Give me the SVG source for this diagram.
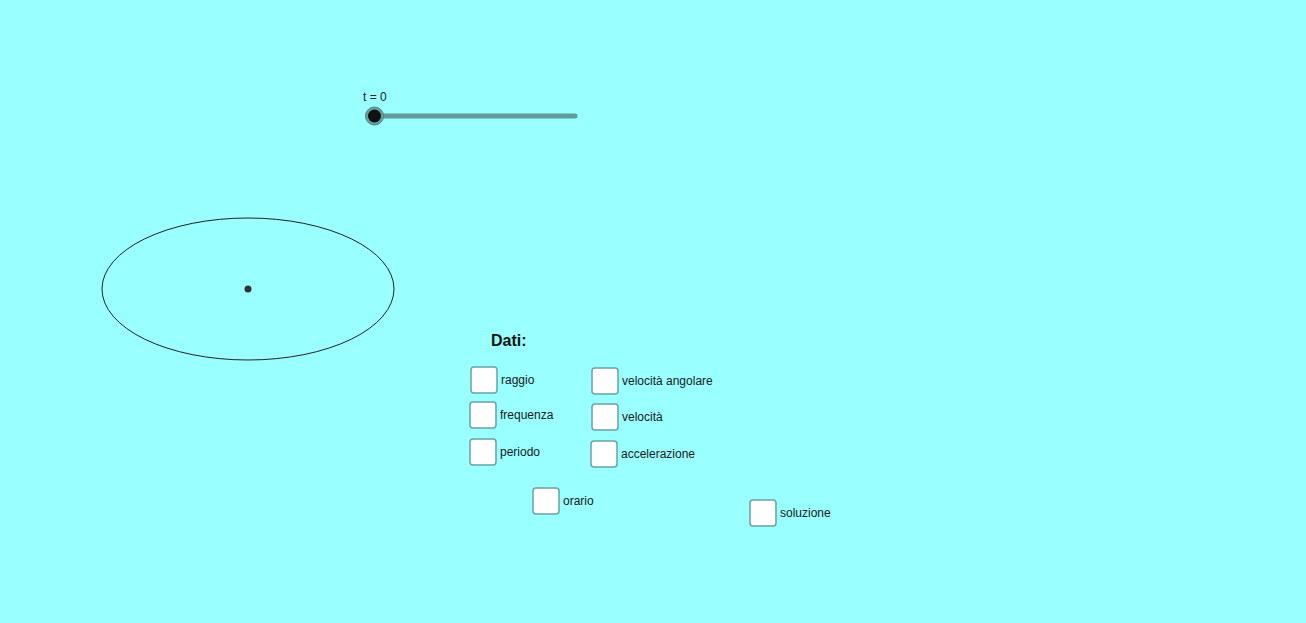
<svg xmlns="http://www.w3.org/2000/svg" width="1306" height="623" viewBox="0 0 1306 623">
<style>
.lbl{font-family:"Liberation Sans",Arial,sans-serif;font-size:12px;fill:#1a1a1a}
.cb{fill:#ffffff;stroke:#6aa3a3;stroke-width:1.5}
</style>
<rect x="0" y="0" width="1306" height="623" fill="#99ffff"/>
<g id="slider">
<text class="lbl" x="363" y="101">t = 0</text>
<line x1="374" y1="116" x2="575" y2="116" stroke="#5f9b9b" stroke-width="5" stroke-linecap="round"/>
<circle cx="374.5" cy="116" r="9" fill="#6a9e9e" stroke="#4f8585" stroke-width="1"/>
<circle cx="374.5" cy="116" r="6.5" fill="#111111"/>
</g>
<g id="ellipse">
<ellipse cx="248" cy="289" rx="146" ry="71" fill="none" stroke="#222222" stroke-width="1"/>
<circle cx="248" cy="289" r="3.5" fill="#333333"/>
</g>
<g id="dati">
<text x="491" y="346" style="font-family:'Liberation Sans',Arial,sans-serif;font-size:16px;font-weight:bold;fill:#111">Dati:</text>
</g>
<g id="raggio"><rect class="cb" x="471" y="367" width="26" height="26" rx="3"/><text class="lbl" x="501" y="384">raggio</text></g>
<g id="frequenza"><rect class="cb" x="470" y="402" width="26" height="26" rx="3"/><text class="lbl" x="500" y="419">frequenza</text></g>
<g id="periodo"><rect class="cb" x="470" y="439" width="26" height="26" rx="3"/><text class="lbl" x="500" y="456">periodo</text></g>
<g id="velocita-angolare"><rect class="cb" x="592" y="368" width="26" height="26" rx="3"/><text class="lbl" x="622" y="385">velocità angolare</text></g>
<g id="velocita"><rect class="cb" x="592" y="404" width="26" height="26" rx="3"/><text class="lbl" x="622" y="421">velocità</text></g>
<g id="accelerazione"><rect class="cb" x="591" y="441" width="26" height="26" rx="3"/><text class="lbl" x="621" y="458">accelerazione</text></g>
<g id="orario"><rect class="cb" x="533" y="488" width="26" height="26" rx="3"/><text class="lbl" x="563" y="505">orario</text></g>
<g id="soluzione"><rect class="cb" x="750" y="500" width="26" height="26" rx="3"/><text class="lbl" x="780" y="517">soluzione</text></g>
<g id="connectors"></g>
</svg>
